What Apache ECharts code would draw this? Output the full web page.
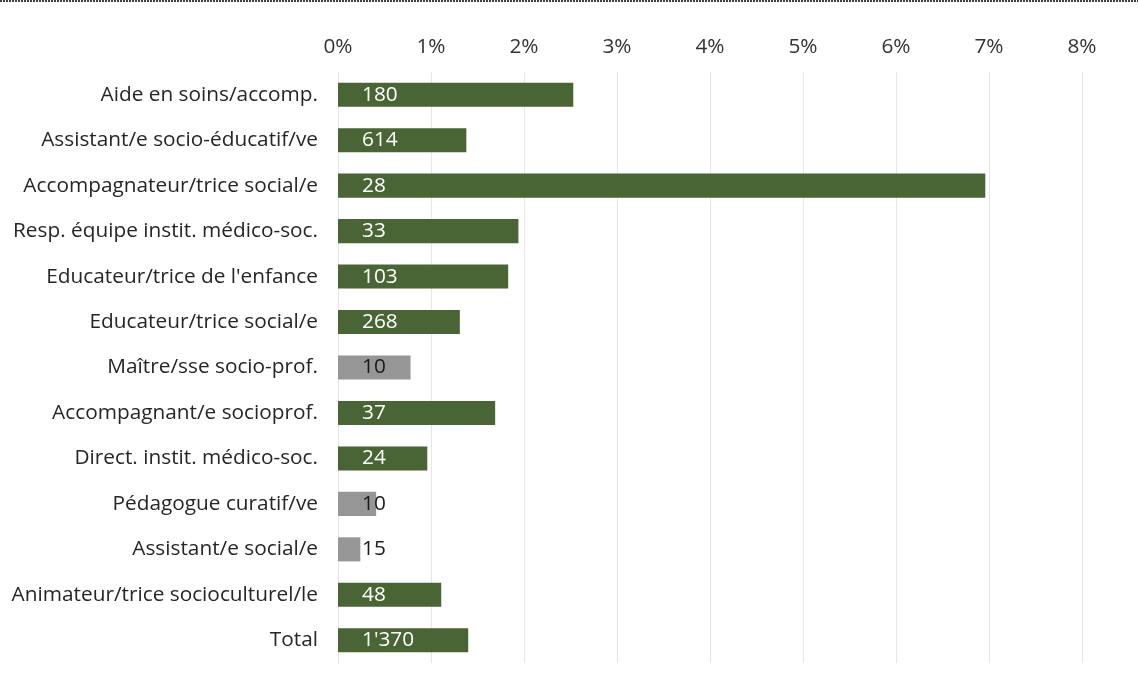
<!DOCTYPE html>
<html><head><meta charset="utf-8">
<script src="https://cdn.jsdelivr.net/npm/echarts@6/dist/echarts.min.js"></script>
<style>html,body{margin:0;padding:0;background:#fff}#c{width:1138px;height:678px}</style>
</head><body><div id="c"></div>
<script>
const categories = ["Aide en soins/accomp.","Assistant/e socio-éducatif/ve","Accompagnateur/trice social/e","Resp. équipe instit. médico-soc.","Educateur/trice de l'enfance","Educateur/trice social/e","Maître/sse socio-prof.","Accompagnant/e socioprof.","Direct. instit. médico-soc.","Pédagogue curatif/ve","Assistant/e social/e","Animateur/trice socioculturel/le","Total"];
const values = [2.53,1.38,6.96,1.94,1.83,1.31,0.78,1.69,0.96,0.41,0.24,1.11,1.40];
const counts = ["180","614","28","33","103","268","10","37","24","10","15","48","1'370"];
const lowSample = [false,false,false,false,false,false,true,false,false,true,true,false,false];
const xTicks = [0,1,2,3,4,5,6,7,8];

const GREEN = '#4a6535', GREY = '#969696';
const chart = echarts.init(document.getElementById('c'));
const FONT = 'Open Sans';
const FS = 20.8;
chart.setOption({
  animation:false,
  grid:{left:338,right:56,top:72,bottom:15,containLabel:false},
  graphic:[{type:'line',shape:{x1:0,y1:1,x2:1138,y2:1},style:{stroke:'#000',lineWidth:1.5,lineDash:[2,1]}}],
  xAxis:{type:'value',position:'top',min:xTicks[0],max:xTicks[xTicks.length-1],interval:1,
    axisLine:{show:false},axisTick:{show:false},
    axisLabel:{formatter:v=>v+'%',fontFamily:FONT,fontSize:FS,color:'#333',margin:14},
    splitLine:{show:true,lineStyle:{color:'#e6e6e6',width:1}}},
  yAxis:{type:'category',inverse:true,data:categories,
    axisLine:{show:true,lineStyle:{color:'#e6e6e6'}},axisTick:{show:false},
    axisLabel:{fontFamily:FONT,fontSize:FS,color:'#262626',margin:20}},
  series:[{type:'bar',barWidth:'53%',
    data:values.map((v,i)=>({value:v,itemStyle:{color:lowSample[i]?GREY:GREEN},
      label:{color:lowSample[i]?'#1a1a1a':'#fff'}})),
    label:{show:true,position:[24,'50%'],align:'left',verticalAlign:'middle',
      fontFamily:FONT,fontSize:FS,formatter:p=>counts[p.dataIndex]}}]
});
</script></body></html>
